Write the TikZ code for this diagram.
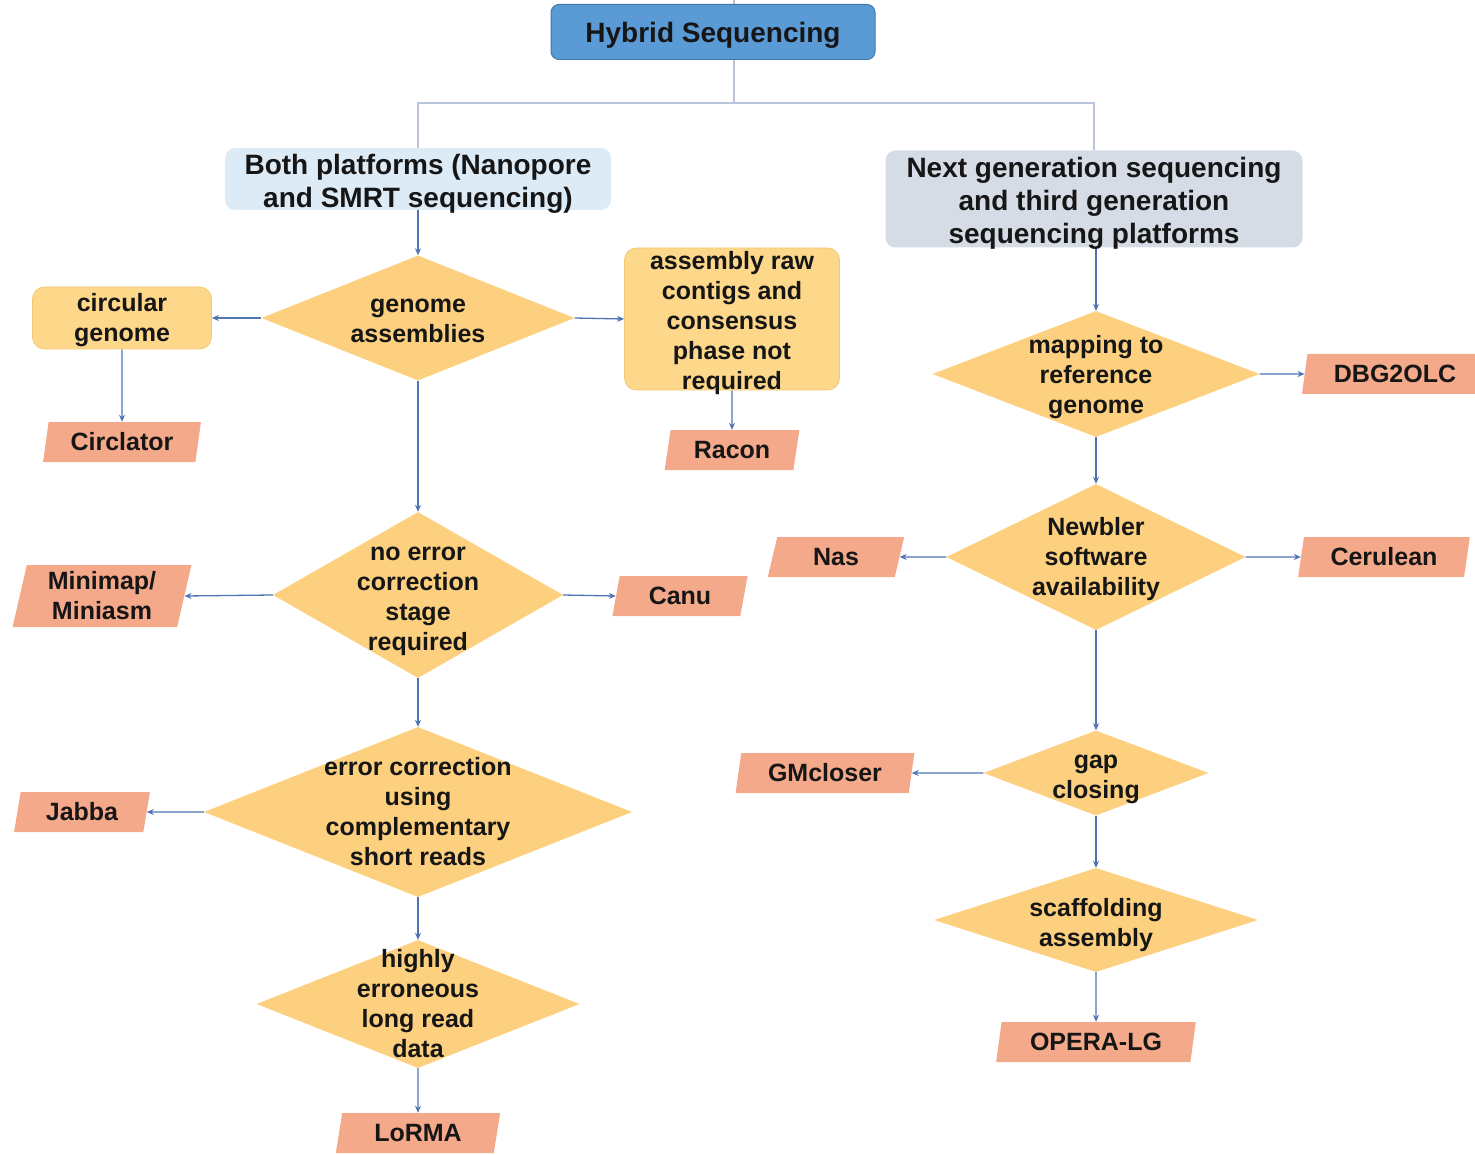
\documentclass[tikz,border=0pt]{standalone}
\usepackage{fontspec}
\setmainfont{Liberation Sans}
\usetikzlibrary{shapes.geometric,arrows.meta,backgrounds}
\definecolor{txt}{HTML}{161616}
\definecolor{hybF}{HTML}{5B9BD5}
\definecolor{hybD}{HTML}{4178B0}
\definecolor{hdrL}{HTML}{DDEBF7}
\definecolor{hdrR}{HTML}{D5DCE6}
\definecolor{orF}{HTML}{FCD07E}
\definecolor{orB}{HTML}{FDD78A}
\definecolor{orD}{HTML}{F3C870}
\definecolor{salF}{HTML}{F4A98A}
\definecolor{lnC}{HTML}{4F74B4}
\definecolor{trC}{HTML}{B9C4D8}
\tikzset{
  base/.style={inner sep=0pt, text=txt, align=center, font=\fontsize{25}{30}\selectfont\bfseries},
  htxt/.style={base, font=\fontsize{28}{33}\selectfont\bfseries},
  hdr/.style={inner sep=0pt, rounded corners=10pt, draw=none},
  hyb/.style={hdr, fill=hybF, draw=hybD, line width=1pt, rounded corners=8pt},
  dia/.style={diamond, inner sep=0pt, fill=orF, draw=none},
  rbox/.style={inner sep=0pt, rounded corners=12pt, fill=orB, draw=orD, line width=0.8pt},
  para/.style={base, trapezium, trapezium left angle=78, trapezium right angle=102,
    trapezium stretches=true, fill=salF, draw=none},
  conn/.style={draw=lnC, line width=1.3pt, -{Stealth[length=7pt,width=6pt]}},
  tree/.style={draw=trC, line width=1.5pt},
}
\begin{document}
\begin{tikzpicture}[x=1pt,y=-1pt]
\useasboundingbox (0,0) rectangle (1475,1155);

% header
\node[hyb, minimum width=324pt, minimum height=55pt,
  label={[htxt,yshift=-3pt]center:{Hybrid Sequencing}}] (hyb) at (713,32) {};
\node[hdr, fill=hdrL, minimum width=386pt, minimum height=62pt,
  label={[htxt,yshift=-5pt]center:{Both platforms (Nanopore\\and SMRT sequencing)}}] (both) at (418,179) {};
\node[hdr, fill=hdrR, minimum width=417pt, minimum height=97pt,
  label={[htxt,yshift=-4pt]center:{Next generation sequencing\\and third generation\\sequencing platforms}}] (ngs) at (1094,199) {};

% left column
\node[dia, minimum width=313pt, minimum height=125pt,
  label={[base,yshift=-3pt]center:{genome\\assemblies}}] (ga) at (418,318) {};
\node[rbox, minimum width=179pt, minimum height=62pt,
  label={[base,yshift=-2pt]center:{circular\\genome}}] (circ) at (122,318) {};
\node[para, minimum width=158pt, minimum height=40pt] (circl) at (122,442) {Circlator};
\node[rbox, minimum width=215pt, minimum height=142pt,
  label={[base,yshift=-4pt]center:{assembly raw\\contigs and\\consensus\\phase not\\required}}] (raw) at (732,319) {};
\node[para, minimum width=135pt, minimum height=40pt] (racon) at (732,450) {Racon};
\node[dia, minimum width=290pt, minimum height=166pt,
  label={[base,yshift=-6pt]center:{no error\\correction\\stage\\required}}] (ne) at (418,595) {};
\node[para, minimum width=179pt, minimum height=62pt] (mini) at (102,596) {Minimap/\\Miniasm};
\node[para, minimum width=136pt, minimum height=40pt] (canu) at (680,596) {Canu};
\node[dia, minimum width=428pt, minimum height=170pt,
  label={[base]center:{error correction\\using\\complementary\\short reads}}] (ec) at (418,812) {};
\node[para, minimum width=137pt, minimum height=40pt] (jabba) at (82,812) {Jabba};
\node[dia, minimum width=323pt, minimum height=128pt,
  label={[base]center:{highly\\erroneous\\long read\\data}}] (he) at (418,1004) {};
\node[para, minimum width=165pt, minimum height=40pt] (lorma) at (418,1133) {LoRMA};

% right column
\node[dia, minimum width=327pt, minimum height=126pt,
  label={[base,yshift=-3pt]center:{mapping to\\reference\\genome}}] (map) at (1096,374) {};
\node[para, minimum width=186pt, minimum height=40pt] (dbg) at (1395,374) {DBG2OLC};
\node[dia, minimum width=299pt, minimum height=146pt,
  label={[base,yshift=-2pt]center:{Newbler\\software\\availability}}] (nb) at (1096,557) {};
\node[para, minimum width=137pt, minimum height=40pt] (nas) at (836,557) {Nas};
\node[para, minimum width=172pt, minimum height=40pt] (cer) at (1384,557) {Cerulean};
\node[dia, minimum width=225pt, minimum height=85pt,
  label={[base,yshift=-6pt]center:{gap\\closing}}] (gap) at (1096,773) {};
\node[para, minimum width=179pt, minimum height=40pt] (gm) at (825,773) {GMcloser};
\node[dia, minimum width=324pt, minimum height=104pt,
  label={[base,yshift=-5pt]center:{scaffolding\\assembly}}] (scaf) at (1096,920) {};
\node[para, minimum width=200pt, minimum height=40pt] (opera) at (1096,1042) {OPERA-LG};

\begin{scope}[on background layer]
  \coordinate (top) at (734,0);
  \coordinate (split) at (734,103);
  \draw[tree] (top) -- (split);
  \draw[tree] (both.north) |- (split) -| (ngs.north);

  \draw[conn] (both.south) -- (ga.north);
  \draw[conn] (ga.west) -- (circ.east);
  \draw[conn] (circ.south) -- (circl.north);
  \draw[conn] (ga.east) -- (raw.west);
  \draw[conn] (raw.south) -- (racon.north);
  \draw[conn] (ga.south) -- (ne.north);
  \draw[conn] (ne.west) -- (mini.east);
  \draw[conn] (ne.east) -- (canu.west);
  \draw[conn] (ne.south) -- (ec.north);
  \draw[conn] (ec.west) -- (jabba.east);
  \draw[conn] (ec.south) -- (he.north);
  \draw[conn] (he.south) -- (lorma.north);

  \draw[conn] (ngs.south -| map.north) -- (map.north);
  \draw[conn] (map.east) -- (dbg.west);
  \draw[conn] (map.south) -- (nb.north);
  \draw[conn] (nb.west) -- (nas.east);
  \draw[conn] (nb.east) -- (cer.west);
  \draw[conn] (nb.south) -- (gap.north);
  \draw[conn] (gap.west) -- (gm.east);
  \draw[conn] (gap.south) -- (scaf.north);
  \draw[conn] (scaf.south) -- (opera.north);
\end{scope}
\end{tikzpicture}
\end{document}
